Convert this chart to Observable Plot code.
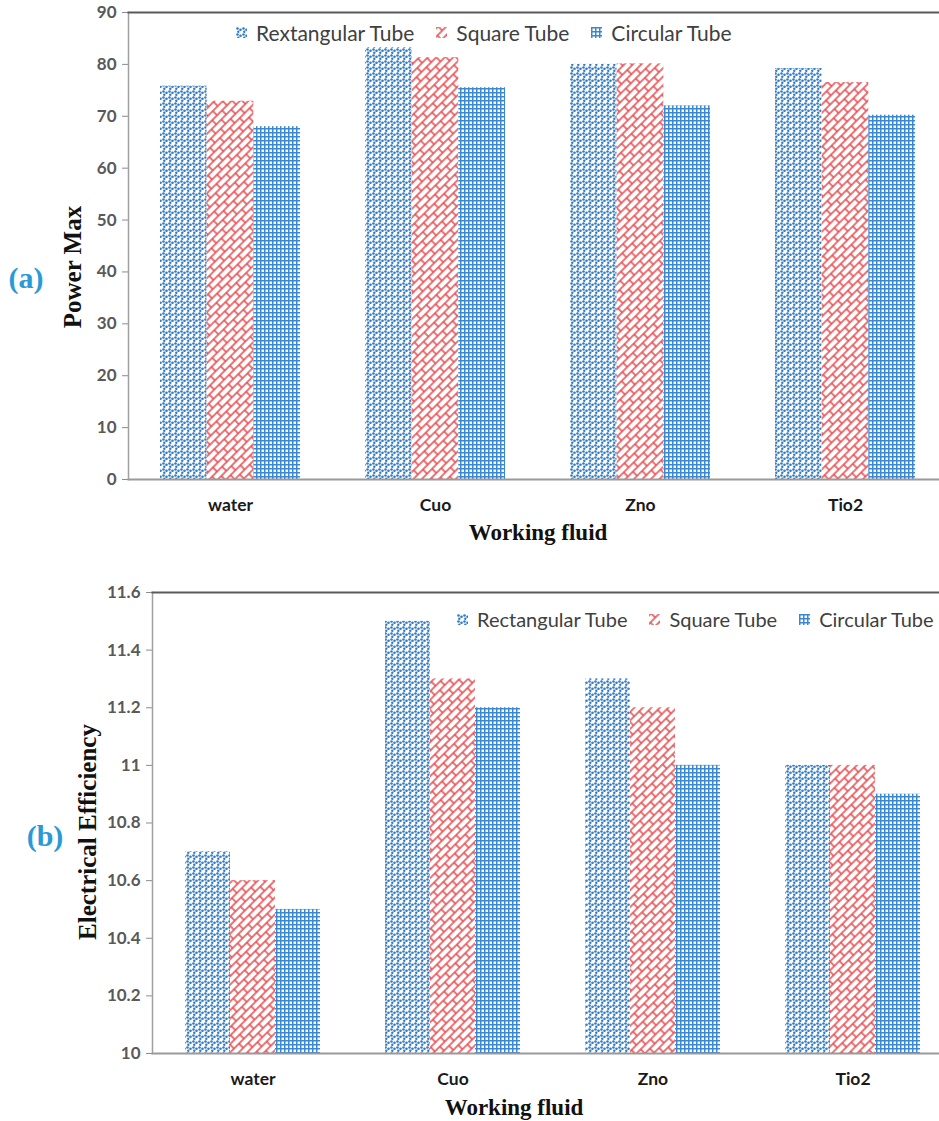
<!DOCTYPE html>
<html><head><meta charset="utf-8">
<script src="https://cdn.jsdelivr.net/npm/d3@7"></script>
<script src="https://cdn.jsdelivr.net/npm/@observablehq/plot@0.6"></script>
<style>
body{margin:0;background:#fff;}
#wrap{position:relative;width:939px;height:1121px;overflow:hidden;font-family:Lato,sans-serif;background:#fff;}
.panel{position:absolute;left:0;width:960px;}
.panel svg{max-width:none !important;}
.legend{position:absolute;display:flex;align-items:center;color:#404040;white-space:nowrap;height:26px}
.legend .item{display:flex;align-items:center;margin-right:22px}
.legend svg{margin-right:9px}
.ytitle{position:absolute;font-family:"Liberation Serif",serif;font-weight:bold;font-size:25px;color:#111;transform:translate(-50%,-50%) rotate(-90deg);white-space:nowrap}
.xtitle{position:absolute;font-family:"Liberation Serif",serif;font-weight:bold;font-size:23px;color:#111;transform:translate(-50%,-50%);white-space:nowrap}
.tag{position:absolute;font-family:"Liberation Serif",serif;font-weight:bold;font-size:30px;color:#2a9ad6;transform:translate(-50%,-50%)}
g[aria-label="x-axis tick label"] text{font-weight:bold;fill:#1a1a1a;font-size:17.5px}
g[aria-label="y-axis tick label"] text{font-weight:bold;fill:#595959;font-size:17px}
</style>
</head><body>
<svg width="0" height="0" style="position:absolute">
<defs>
<pattern id="pDots" width="6" height="6" patternUnits="userSpaceOnUse">
<rect width="6" height="6" fill="#fff"/>
<circle cx="1.5" cy="1.5" r="1.3" fill="#2f7cc4"/>
<circle cx="4.5" cy="2.7" r="1.3" fill="#2f7cc4"/>
<circle cx="2.3" cy="4.7" r="1.2" fill="#2f7cc4"/>
</pattern>
<pattern id="pBrick" width="14" height="12" patternUnits="userSpaceOnUse" patternTransform="rotate(-45)">
<rect width="14" height="12" fill="#fff"/>
<path d="M0,1H14M0,7H14M2,1V7M9,7V12M9,0V1" stroke="#e9474b" stroke-width="1.5" fill="none"/>
</pattern>
<pattern id="pGrid" width="4" height="4" patternUnits="userSpaceOnUse">
<rect width="4" height="4" fill="#3a88cf"/>
<rect x="1.5" y="1.5" width="2.5" height="2.5" fill="#fff"/>
</pattern>
</defs>
</svg>
<div id="wrap"></div>
<script>
const fluids = ["water", "Cuo", "Zno", "Tio2"];
const tubes = ["Rectangular", "Square", "Circular"];
const legendA = ["Rextangular Tube", "Square Tube", "Circular Tube"];
const legendB = ["Rectangular Tube", "Square Tube", "Circular Tube"];
const fills = ["url(#pDots)", "url(#pBrick)", "url(#pGrid)"];

const powerRect = [75.8, 83.2, 80.0, 79.2];
const powerSquare = [72.9, 81.3, 80.1, 76.5];
const powerCirc = [68.0, 75.5, 72.0, 70.2];

const effRect = [10.7, 11.5, 11.3, 11.0];
const effSquare = [10.6, 11.3, 11.2, 11.0];
const effCirc = [10.5, 11.2, 11.0, 10.9];

const powerTicks = [0, 10, 20, 30, 40, 50, 60, 70, 80, 90];
const effTicks = [10, 10.2, 10.4, 10.6, 10.8, 11, 11.2, 11.4, 11.6];

function table(a, b, c) {
  const rows = [];
  fluids.forEach((f, i) => {
    rows.push({fluid: f, tube: tubes[0], value: a[i]});
    rows.push({fluid: f, tube: tubes[1], value: b[i]});
    rows.push({fluid: f, tube: tubes[2], value: c[i]});
  });
  return rows;
}

const wrap = document.getElementById("wrap");

function panel({data, top, width, height, mL, mT, mB, yDomain, ticks, pad, fmt}) {
  const step = (width - mL) / fluids.length;
  const barW = step * (1 - pad) / tubes.length;
  const bars = tubes.map((t, i) => Plot.barY(data, {
    filter: d => d.tube === t,
    x: "fluid", y1: yDomain[0], y2: "value",
    fill: fills[i],
    insetLeft: i * barW, insetRight: (tubes.length - 1 - i) * barW
  }));
  const chart = Plot.plot({
    width, height,
    marginLeft: mL, marginTop: mT, marginBottom: mB, marginRight: 0,
    style: {fontFamily: "Lato, sans-serif", fontSize: "16px", color: "#595959", background: "transparent", overflow: "visible", maxWidth: "none"},
    x: {domain: fluids, paddingInner: pad, paddingOuter: pad / 2, label: null},
    y: {domain: yDomain, label: null},
    marks: [
      ...bars,
      Plot.axisY({ticks, tickSize: 6, tickPadding: 6, stroke: "#8c8c8c", tickFormat: fmt, label: null}),
      Plot.axisX({anchor: "bottom", tickSize: 0, tickPadding: 19, label: null}),
      Plot.frame({anchor: "left", stroke: "#a0a0a0", strokeWidth: 1.5}),
      Plot.frame({anchor: "bottom", stroke: "#9a9a9a", strokeWidth: 2}),
      Plot.frame({anchor: "top", stroke: "#5a5a5a", strokeWidth: 2})
    ]
  });
  const d = document.createElement("div");
  d.className = "panel";
  d.style.top = top + "px";
  d.appendChild(chart);
  wrap.appendChild(d);
}

panel({data: table(powerRect, powerSquare, powerCirc), top: 0, width: 948, height: 560, mL: 128, mT: 12, mB: 81,
  yDomain: [0, 90], ticks: powerTicks, pad: 0.317, fmt: d3.format("d")});
panel({data: table(effRect, effSquare, effCirc), top: 560, width: 952, height: 561, mL: 152, mT: 32, mB: 68,
  yDomain: [10, 11.6], ticks: effTicks, pad: 0.325, fmt: d => String(+d.toFixed(1))});

function legend(labels, left, top, size) {
  const lg = document.createElement("div");
  lg.className = "legend";
  lg.style.left = left + "px";
  lg.style.top = top + "px";
  lg.style.fontSize = size + "px";
  labels.forEach((t, i) => {
    const it = document.createElement("div");
    it.className = "item";
    it.innerHTML = `<svg width="11" height="11"><rect width="11" height="11" fill="${fills[i]}"/></svg><span>${t}</span>`;
    lg.appendChild(it);
  });
  wrap.appendChild(lg);
}
legend(legendA, 236, 19, 21);
legend(legendB, 457, 606, 20);

function label(cls, text, x, y) {
  const e = document.createElement("div");
  e.className = cls;
  e.textContent = text;
  e.style.left = x + "px";
  e.style.top = y + "px";
  wrap.appendChild(e);
}
label("tag", "(a)", 26, 278);
label("ytitle", "Power Max", 73, 267);
label("xtitle", "Working fluid", 538, 533);
label("tag", "(b)", 45, 836);
label("ytitle", "Electrical Efficiency", 88, 832);
label("xtitle", "Working fluid", 514, 1108);
</script>
</body></html>
